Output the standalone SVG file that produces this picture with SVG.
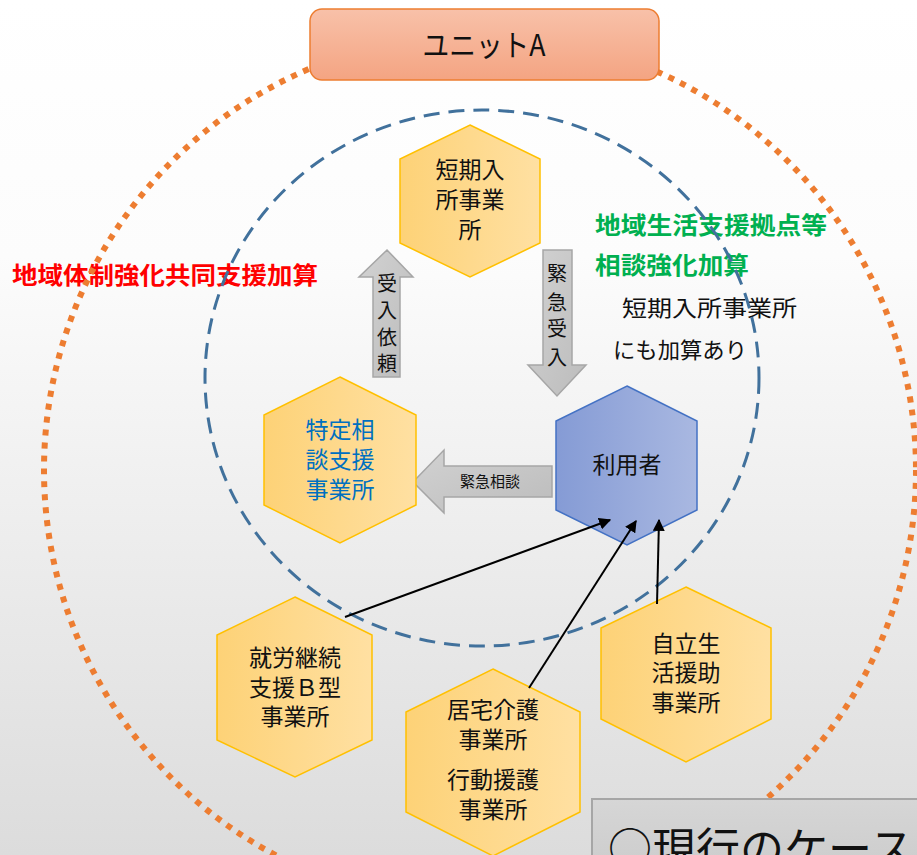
<svg xmlns="http://www.w3.org/2000/svg" width="917" height="855" viewBox="0 0 917 855">
<defs>
<linearGradient id="bg" x1="0" y1="0" x2="0" y2="1">
<stop offset="0" stop-color="#ffffff"/><stop offset="0.3" stop-color="#fcfcfc"/><stop offset="1" stop-color="#dcdcdc"/>
</linearGradient>
<linearGradient id="unitg" x1="0" y1="0" x2="0" y2="1">
<stop offset="0" stop-color="#f8c1a9"/><stop offset="1" stop-color="#f4a482"/>
</linearGradient>
<linearGradient id="hexg" x1="0" y1="0" x2="1" y2="0">
<stop offset="0" stop-color="#fdd277"/><stop offset="1" stop-color="#ffe0a2"/>
</linearGradient>
<linearGradient id="userg" x1="0" y1="0" x2="1" y2="0">
<stop offset="0" stop-color="#859bd5"/><stop offset="1" stop-color="#a9b8e1"/>
</linearGradient>
<linearGradient id="arrg" x1="0" y1="0" x2="1" y2="1">
<stop offset="0" stop-color="#d2d2d2"/><stop offset="1" stop-color="#bcbcbc"/>
</linearGradient>
<linearGradient id="boxg" x1="0" y1="0" x2="0" y2="1">
<stop offset="0" stop-color="#d6d6d6"/><stop offset="1" stop-color="#cbcbcb"/>
</linearGradient>
<marker id="ah" viewBox="0 0 10 10" refX="9" refY="5" markerWidth="6" markerHeight="6" orient="auto" markerUnits="strokeWidth">
<path d="M0,0 L10,5 L0,10 z" fill="#000"/>
</marker>
<style>
text{font-family:"Noto Sans CJK JP","Noto Sans",sans-serif;}
.hex{fill:url(#hexg);stroke:#ffc000;stroke-width:1.5;}
.ht{font-size:23px;fill:#111;text-anchor:middle;}
.arr{fill:url(#arrg);stroke:#a6a6a6;stroke-width:1.5;}
.at{font-size:20px;fill:#111;text-anchor:middle;}
.conn{stroke:#000;stroke-width:2;fill:none;marker-end:url(#ah);}
.gr{font-size:24px;font-weight:bold;fill:#00b050;}
</style>
</defs>
<rect x="0" y="0" width="917" height="855" fill="url(#bg)"/>

<g id="labels">
<text x="12" y="284" font-size="24" font-weight="bold" fill="#ff0000" textLength="306" lengthAdjust="spacingAndGlyphs">地域体制強化共同支援加算</text>
<text class="gr" x="595" y="234" textLength="232" lengthAdjust="spacingAndGlyphs">地域生活支援拠点等</text>
<text class="gr" x="595" y="274" textLength="154" lengthAdjust="spacingAndGlyphs">相談強化加算</text>
<text x="622" y="316" font-size="22" fill="#111" textLength="175" lengthAdjust="spacingAndGlyphs">短期入所事業所</text>
<text x="613" y="358" font-size="22" fill="#111" textLength="134" lengthAdjust="spacingAndGlyphs">にも加算あり</text>
</g>

<g id="circles">
<circle cx="480" cy="470" r="436" fill="none" stroke="#ed7d31" stroke-width="6" stroke-dasharray="6 7"/>
<ellipse cx="482" cy="378" rx="277" ry="268" fill="none" stroke="#41719c" stroke-width="3" stroke-dasharray="16 9"/>
</g>

<g id="unitA">
<rect x="310" y="9" width="349" height="71" rx="12" fill="url(#unitg)" stroke="#ed7d31" stroke-width="1.5"/>
<text x="484" y="56" font-size="30" fill="#111" text-anchor="middle" textLength="123" lengthAdjust="spacingAndGlyphs">ユニットA</text>
</g>

<g id="block-arrows">
<g id="arrow-ukeire">
<polygon class="arr" points="387,250 413,277 400,277 400,377 373,377 373,277 359,277"/>
<text class="at"><tspan x="387" y="291">受</tspan><tspan x="387" y="318">入</tspan><tspan x="387" y="345">依</tspan><tspan x="387" y="371">頼</tspan></text>
</g>
<g id="arrow-kinkyu-ukeire">
<polygon class="arr" points="543,250 572,250 572,365 586,365 557,396 528,365 543,365"/>
<text class="at"><tspan x="557" y="281">緊</tspan><tspan x="557" y="310">急</tspan><tspan x="557" y="336">受</tspan><tspan x="557" y="365">入</tspan></text>
</g>
<g id="arrow-kinkyu-soudan">
<polygon class="arr" points="413,482 444,450 444,466 552,466 552,497 444,497 444,513"/>
<text x="490" y="487" font-size="15" fill="#111" text-anchor="middle">緊急相談</text>
</g>
</g>

<g id="node-tanki">
<polygon class="hex" points="470,125 540,159 540,243 470,277 400,243 400,159"/>
<text class="ht"><tspan x="470" y="178">短期入</tspan><tspan x="470" y="208">所事業</tspan><tspan x="470" y="238">所</tspan></text>
</g>
<g id="node-tokutei">
<polygon class="hex" points="340,377 416,415 416,505 340,543 264,505 264,415"/>
<text class="ht" style="fill:#0070c0"><tspan x="340" y="438">特定相</tspan><tspan x="340" y="468">談支援</tspan><tspan x="340" y="498">事業所</tspan></text>
</g>
<g id="node-riyousha">
<polygon points="627,386 697,421 697,510 627,545 556,510 556,421" fill="url(#userg)" stroke="#4472c4" stroke-width="1.5"/>
<text class="ht" x="627" y="473">利用者</text>
</g>
<g id="node-shurou">
<polygon class="hex" points="295,597 372,635 372,740 295,777 217,740 217,635"/>
<text class="ht"><tspan x="295" y="666">就労継続</tspan><tspan x="295" y="696">支援Ｂ型</tspan><tspan x="295" y="725">事業所</tspan></text>
</g>
<g id="node-kyotaku">
<polygon class="hex" points="493,669 580,712 580,812 493,856 406,812 406,712"/>
<text class="ht"><tspan x="493" y="718">居宅介護</tspan><tspan x="493" y="748">事業所</tspan><tspan x="493" y="788">行動援護</tspan><tspan x="493" y="818">事業所</tspan></text>
</g>
<g id="node-jiritsu">
<polygon class="hex" points="686,587 771,628 771,719 686,762 601,719 601,628"/>
<text class="ht"><tspan x="686" y="652">自立生</tspan><tspan x="686" y="681">活援助</tspan><tspan x="686" y="711">事業所</tspan></text>
</g>

<g id="connectors">
<line class="conn" x1="345" y1="617" x2="610" y2="520"/>
<line class="conn" x1="529" y1="688" x2="636" y2="521"/>
<line class="conn" x1="657" y1="604" x2="659" y2="520"/>
</g>

<g id="case-box">
<rect x="592" y="799" width="340" height="80" fill="url(#boxg)" stroke="#a6a6a6" stroke-width="2"/>
<text x="608" y="865" font-size="44" fill="#111">○現行のケース</text>
</g>
</svg>
